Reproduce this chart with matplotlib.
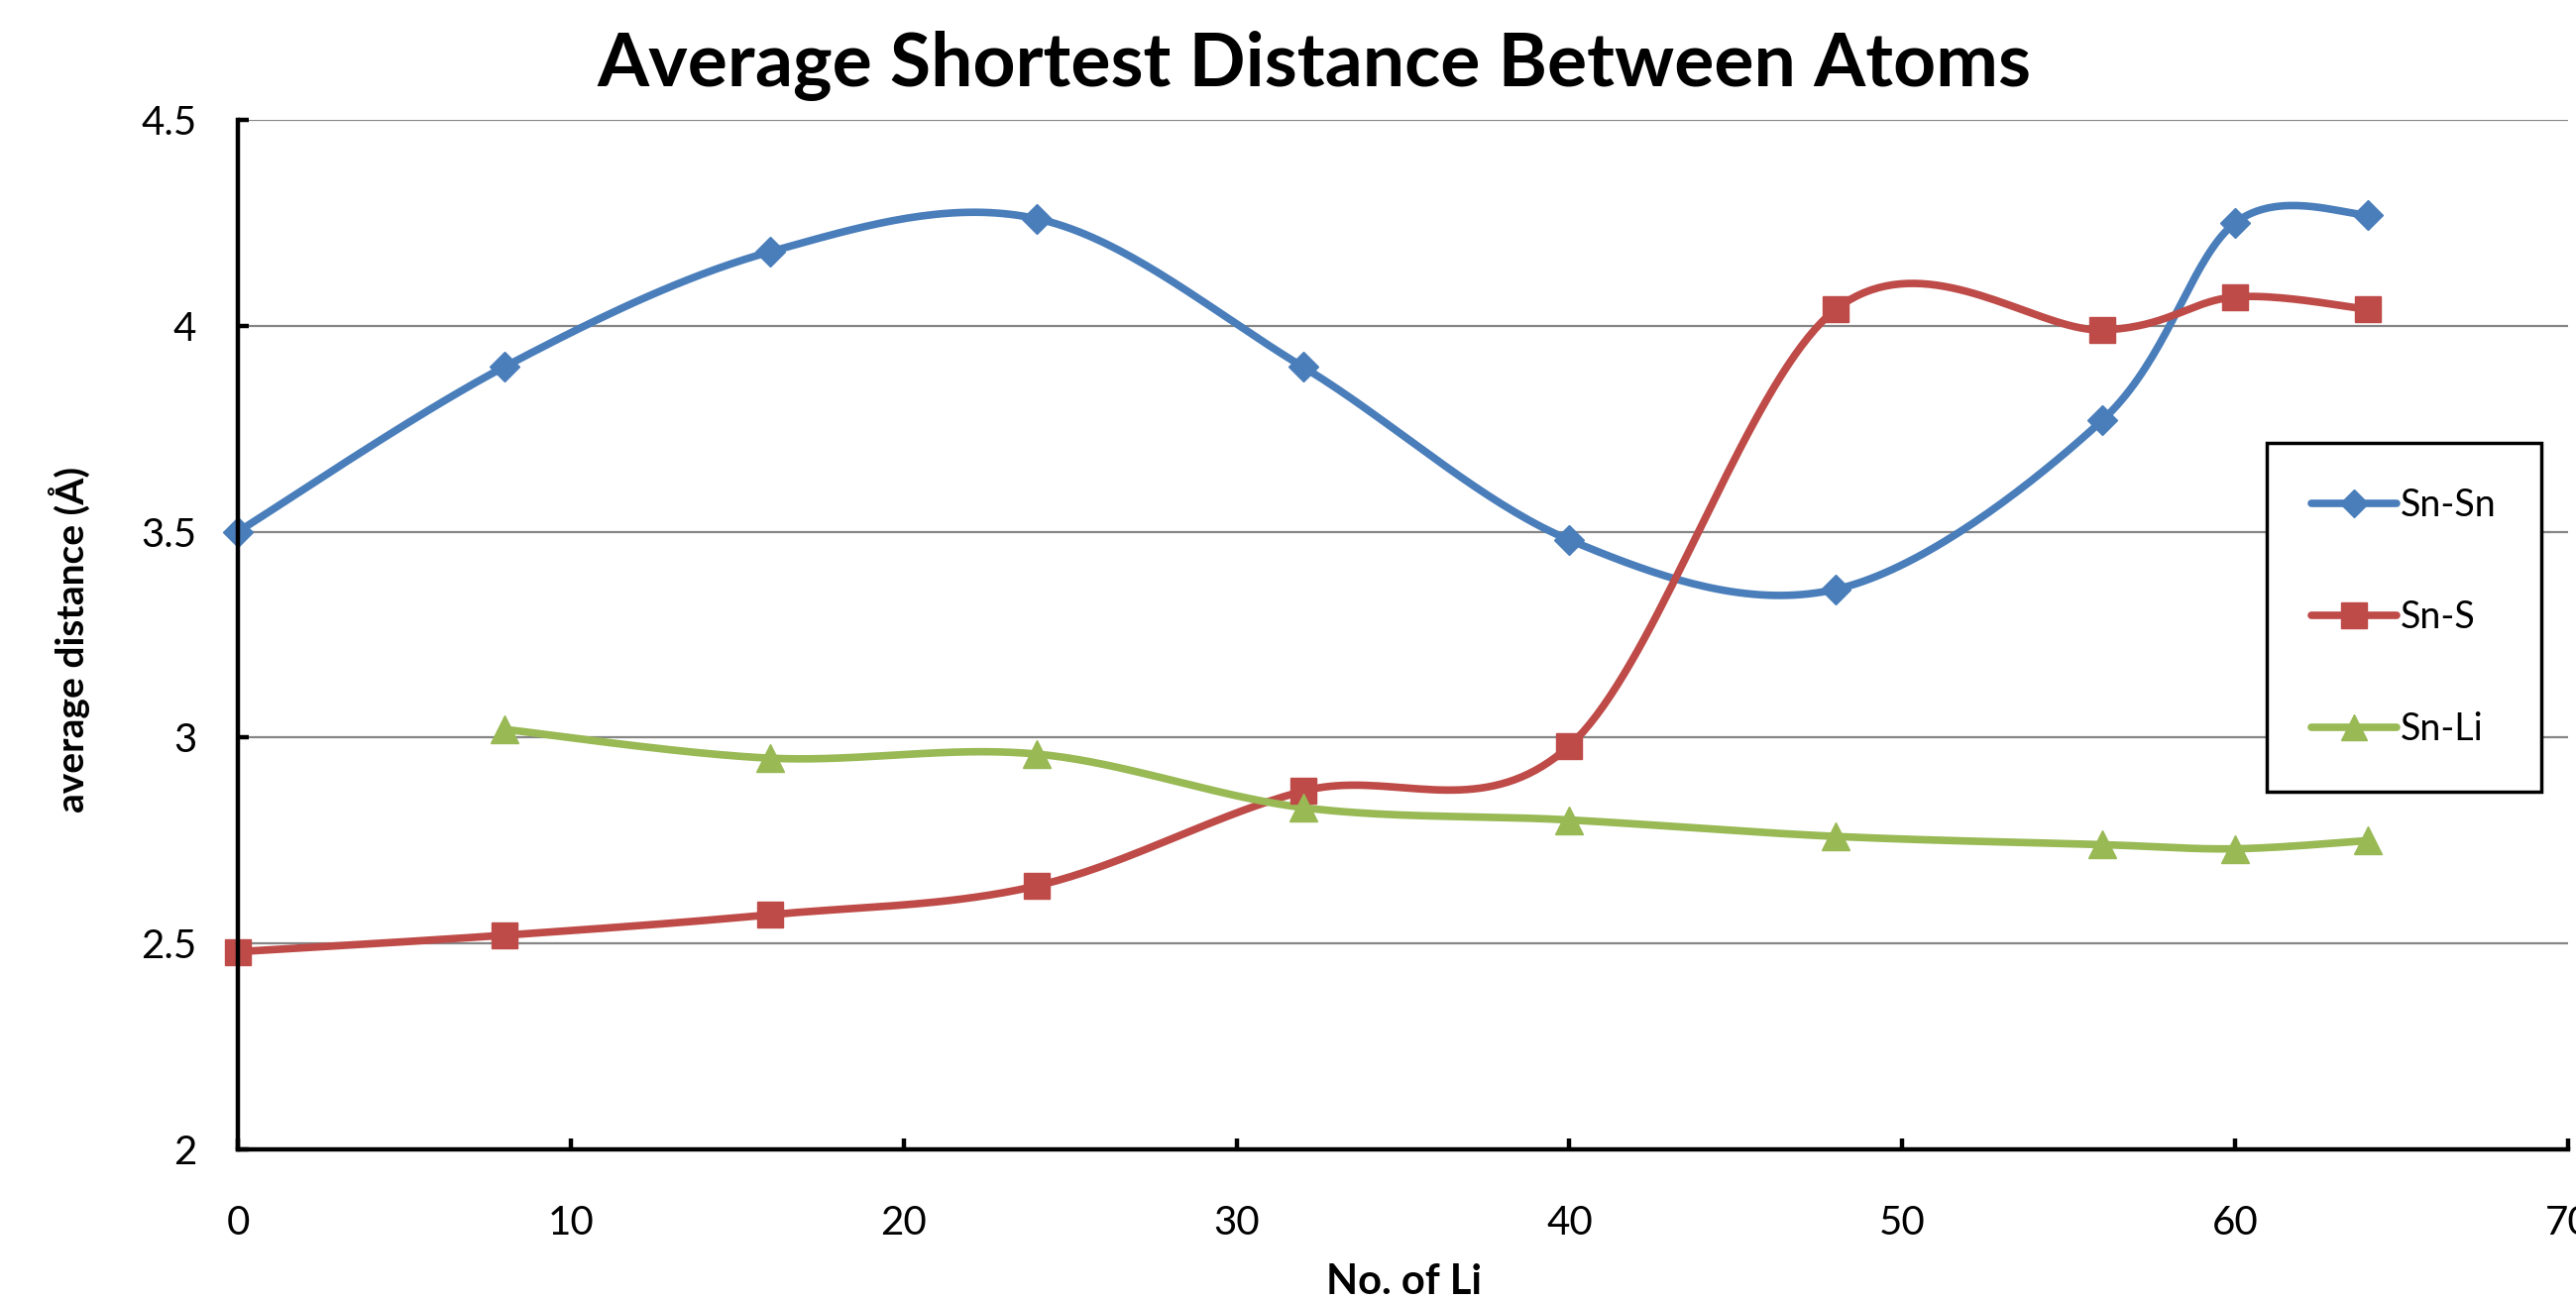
import numpy as np
import matplotlib
matplotlib.use("Agg")
import matplotlib.pyplot as plt

plt.rcParams['font.family'] = ['Lato', 'DejaVu Sans']

# ---- data ----
li_all = [0, 8, 16, 24, 32, 40, 48, 56, 60, 64]
sn_sn = [3.50, 3.90, 4.18, 4.26, 3.90, 3.48, 3.36, 3.77, 4.25, 4.27]
sn_s = [2.48, 2.52, 2.57, 2.64, 2.87, 2.98, 4.04, 3.99, 4.07, 4.04]
li_snli = [8, 16, 24, 32, 40, 48, 56, 60, 64]
sn_li = [3.02, 2.95, 2.96, 2.83, 2.80, 2.76, 2.74, 2.73, 2.75]

series_names = ["Sn-Sn", "Sn-S", "Sn-Li"]
x_ticks = [0, 10, 20, 30, 40, 50, 60, 70]
y_ticks = [2, 2.5, 3, 3.5, 4, 4.5]

title = "Average Shortest Distance Between Atoms"
xlabel = "No. of Li"
ylabel = "average distance (Å)"

colors = ["#4A7EBB", "#BE4B48", "#98B954"]
markers = ["D", "s", "^"]
msizes = [15, 19, 20]


def smooth(xs, ys, n=40):
    """Excel-like smoothed line: cubic Bezier through points (Catmull-Rom)."""
    P = np.column_stack([xs, ys]).astype(float)
    m = len(P)
    out = []
    for i in range(m - 1):
        p0 = P[max(i - 1, 0)]
        p1 = P[i]
        p2 = P[i + 1]
        p3 = P[min(i + 2, m - 1)]
        c1 = p1 + (p2 - p0) / 6.0
        c2 = p2 - (p3 - p1) / 6.0
        t = np.linspace(0, 1, n)[:, None]
        seg = ((1 - t) ** 3) * p1 + 3 * ((1 - t) ** 2) * t * c1 + 3 * (1 - t) * t ** 2 * c2 + t ** 3 * p2
        if i > 0:
            seg = seg[1:]
        out.append(seg)
    c = np.vstack(out)
    return c[:, 0], c[:, 1]


W, H = 2599, 1312
fig = plt.figure(figsize=(W / 100, H / 100), dpi=100)
fig.patch.set_facecolor("white")

ax = fig.add_axes([240 / W, 1 - 1160 / H, (2591 - 240) / W, (1160 - 121) / H])
ax.set_xlim(0, 70)
ax.set_ylim(2, 4.5)

for yv in y_ticks[1:]:
    ax.axhline(yv, color="#868686", lw=1.6, zorder=1)

data = [(li_all, sn_sn), (li_all, sn_s), (li_snli, sn_li)]
for (xs, ys), name, col, mk, ms in zip(data, series_names, colors, markers, msizes):
    sx, sy = smooth(xs, ys)
    ax.plot(sx, sy, color=col, lw=5.5, solid_capstyle="round", zorder=3, clip_on=False)
    ax.plot(xs, ys, linestyle="none", marker=mk, markersize=ms, color=col,
            markeredgecolor=col, zorder=4, clip_on=False)
    # legend proxy
    ax.plot([], [], color=col, lw=5.5, marker=mk, markersize=ms * 0.95,
            markeredgecolor=col, label=name, solid_capstyle="round")

for s in ["top", "right"]:
    ax.spines[s].set_visible(False)
for s in ["left", "bottom"]:
    ax.spines[s].set_linewidth(3.2)
    ax.spines[s].set_color("black")
    ax.spines[s].set_zorder(5)

ax.set_xticks(x_ticks)
ax.set_yticks(y_ticks)
ax.set_xticklabels([str(v) for v in x_ticks])
ax.set_yticklabels([("%g" % v) for v in y_ticks])
ax.tick_params(axis="both", direction="in", length=8, width=3.2, labelsize=29, color="black")
ax.tick_params(axis="x", pad=40)
ax.tick_params(axis="y", pad=30)

fig.text(1326 / W, 1 - 66 / H, title, ha="center", va="center", fontsize=54, fontweight="bold")
fig.text(1416 / W, 1 - 1294 / H, xlabel, ha="center", va="center", fontsize=30, fontweight="bold")
fig.text(70 / W, 1 - 645 / H, ylabel, ha="center", va="center", rotation=90, fontsize=28, fontweight="bold")

leg = ax.legend(loc="upper left", bbox_to_anchor=(2287 / W, 1 - 447 / H), bbox_transform=fig.transFigure,
                frameon=True, fancybox=False, fontsize=27, handlelength=2.3, handletextpad=0.1,
                labelspacing=2.05, borderpad=1.2, borderaxespad=0)
leg.get_frame().set_edgecolor("black")
leg.get_frame().set_linewidth(2.5)
leg.get_frame().set_facecolor("white")
leg.get_frame().set_alpha(1)

fig.savefig("out.png", dpi=100)
